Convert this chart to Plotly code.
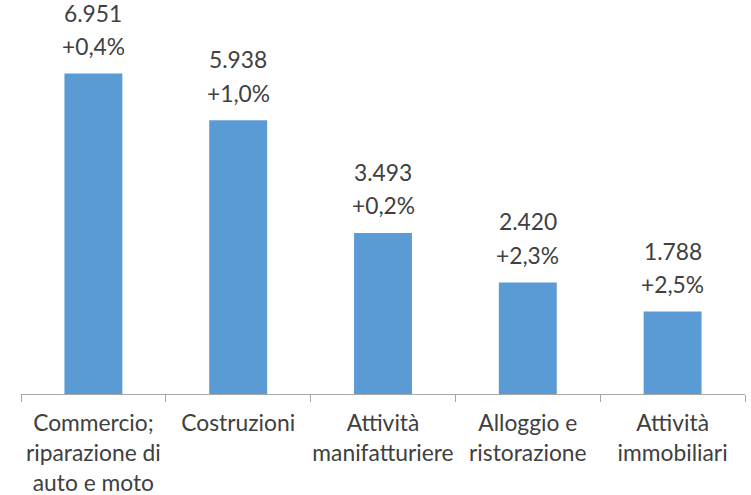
import plotly.graph_objects as go

categories = ["Commercio;<br>riparazione di<br>auto e moto", "Costruzioni",
              "Attività<br>manifatturiere", "Alloggio e<br>ristorazione", "Attività<br>immobiliari"]
values = [6951, 5938, 3493, 2420, 1788]
changes = [0.4, 1.0, 0.2, 2.3, 2.5]

def fmt_int(v):
    return f"{v:,}".replace(",", ".")

def fmt_pct(p):
    return ("+" if p >= 0 else "") + f"{p:.1f}".replace(".", ",") + "%"

FONT = "Lato, 'Open Sans', sans-serif"
TXT = "#404040"
FS = 22.8

fig = go.Figure(go.Bar(x=categories, y=values, marker=dict(color="#5B9BD5", line=dict(width=0)),
                       hoverinfo="skip"))

annotations = []
for c, v, p in zip(categories, values, changes):
    annotations.append(dict(x=c, y=v, text=fmt_pct(p), showarrow=False, yanchor="bottom",
                            yshift=11.5, font=dict(family=FONT, size=FS, color=TXT)))
    annotations.append(dict(x=c, y=v, text=fmt_int(v), showarrow=False, yanchor="bottom",
                            yshift=45, font=dict(family=FONT, size=FS, color=TXT)))

fig.update_layout(
    width=751, height=495,
    margin=dict(l=21, r=6, t=0, b=101),
    paper_bgcolor="white", plot_bgcolor="white",
    bargap=0.6,
    showlegend=False,
    annotations=annotations,
    font=dict(family=FONT, size=FS, color=TXT),
    xaxis=dict(showline=True, linecolor="#A6A6A6", linewidth=1, ticks="outside",
               tickson="boundaries", ticklen=7, tickcolor="#A6A6A6", showgrid=False,
               tickangle=0, automargin=False, ticklabelstandoff=9,
               tickfont=dict(family=FONT, size=FS, color=TXT), fixedrange=True),
    yaxis=dict(range=[0, 8547], visible=False, showgrid=False, fixedrange=True),
)

fig.write_html("out.html", config={"displayModeBar": False},
               post_script="document.body.style.margin='0';document.body.style.overflow='hidden';")
